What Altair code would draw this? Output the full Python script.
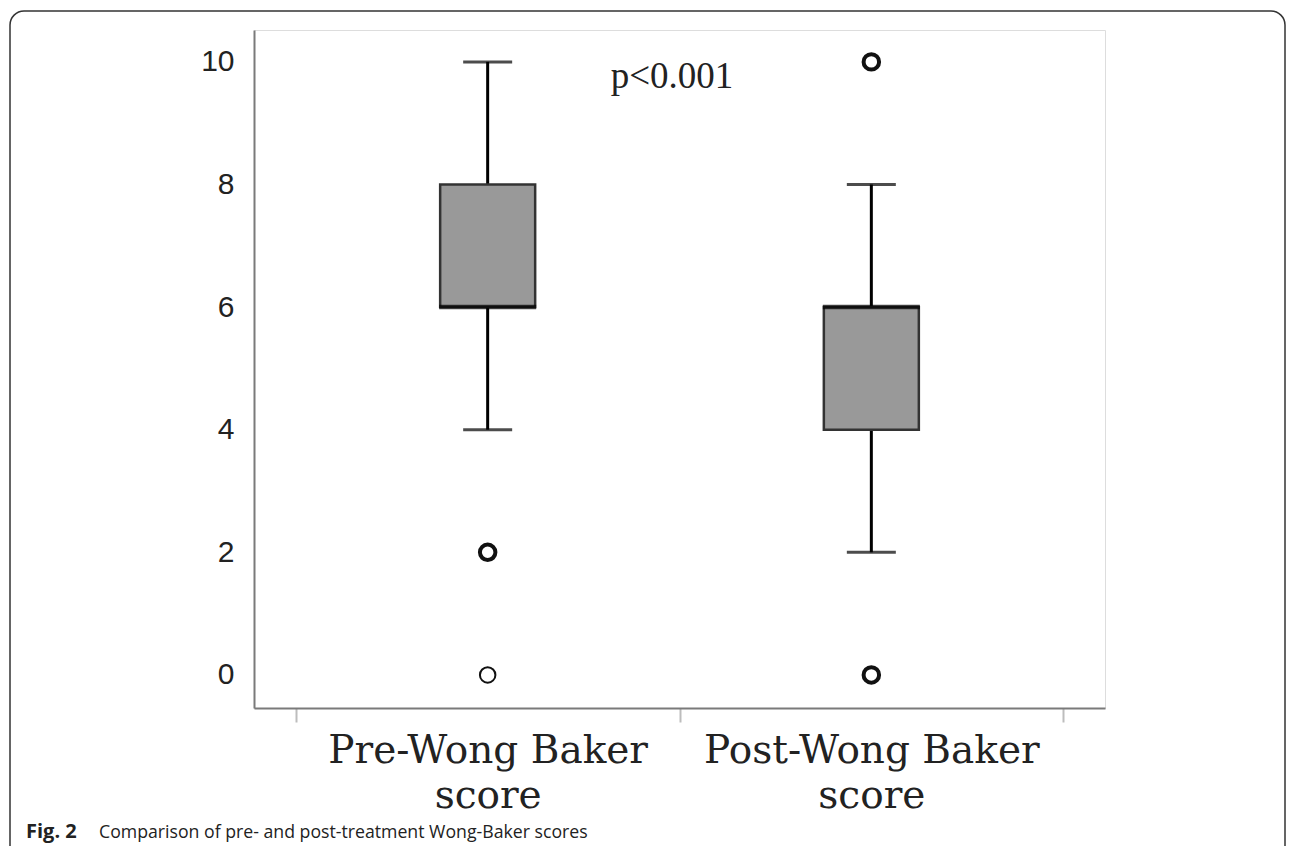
import altair as alt
import pandas as pd

# ---- data ----
categories = ["Pre-Wong Baker score", "Post-Wong Baker score"]
whisker_low = [4, 2]
q1 = [6, 4]
median = [6, 6]
q3 = [8, 6]
whisker_high = [10, 8]

outlier_cat = ["Pre-Wong Baker score", "Pre-Wong Baker score",
               "Post-Wong Baker score", "Post-Wong Baker score"]
outlier_val = [2, 0, 10, 0]
outlier_n = [3, 1, 3, 3]

y_ticks = [0, 2, 4, 6, 8, 10]
p_label = "p<0.001"
fig_label = "Fig. 2"
caption = "Comparison of pre- and post-treatment Wong-Baker scores"

box_df = pd.DataFrame({
    "cat": categories, "lo": whisker_low, "q1": q1,
    "med": median, "q3": q3, "hi": whisker_high,
})
out_df = pd.DataFrame({"cat": outlier_cat, "val": outlier_val, "n": outlier_n})

W, H = 851, 678

x_enc = alt.X(
    "cat:N", sort=categories, title=None,
    scale=alt.Scale(paddingInner=0, paddingOuter=0.109),
    axis=alt.Axis(
        labelAngle=0, tickBand="extent", ticks=True, tickSize=14,
        tickColor="#bdbdbd", tickWidth=2, domainColor="#7a7a7a", domainWidth=2,
        labelFont="DejaVu Serif", labelFontSize=39, labelColor="#222222",
        labelLineHeight=45, labelPadding=9, labelBaseline="top", labelLimit=0,
        labelExpr="datum.label ? [replace(datum.label, ' score', ''), 'score'] : ''",
    ),
)
y_scale = alt.Scale(domain=[-0.54, 10.52], nice=False, zero=False)
y_axis = alt.Axis(
    values=y_ticks, grid=False, ticks=False, title=None,
    domainColor="#7a7a7a", domainWidth=2,
    labelFont="Liberation Sans", labelFontSize=30, labelColor="#222222",
    labelPadding=20,
)

base = alt.Chart(box_df)

whisk_low = base.mark_rule(color="black", strokeWidth=3).encode(
    x=x_enc, y=alt.Y("lo:Q", scale=y_scale, axis=y_axis), y2="q1:Q")
whisk_high = base.mark_rule(color="black", strokeWidth=3).encode(
    x=x_enc, y=alt.Y("q3:Q", scale=y_scale, axis=y_axis), y2="hi:Q")
boxes = base.mark_bar(size=95, fill="#999999", stroke="#333333", strokeWidth=2.5).encode(
    x=x_enc, y=alt.Y("q1:Q", scale=y_scale, axis=y_axis), y2="q3:Q")
cap_low = base.mark_tick(size=49, thickness=3, color="black").encode(
    x=x_enc, y=alt.Y("lo:Q", scale=y_scale, axis=y_axis))
cap_high = base.mark_tick(size=49, thickness=3, color="black").encode(
    x=x_enc, y=alt.Y("hi:Q", scale=y_scale, axis=y_axis))
med = base.mark_tick(size=97, thickness=4.5, color="black").encode(
    x=x_enc, y=alt.Y("med:Q", scale=y_scale, axis=y_axis))

outliers = alt.Chart(out_df).mark_point(
    shape="circle", filled=False, size=240, color="#111111", opacity=1
).encode(
    x=x_enc, y=alt.Y("val:Q", scale=y_scale, axis=y_axis),
    strokeWidth=alt.StrokeWidth("n:Q", scale=alt.Scale(domain=[1, 3], range=[2, 4]), legend=None),
)

one = alt.Data(values=[{"k": 1}])
p_text = alt.Chart(one).mark_text(
    text=p_label, font="Liberation Serif", fontSize=37, color="#222222",
    align="center", baseline="alphabetic",
).encode(x=alt.value(418), y=alt.value(58))

fig_text = alt.Chart(one).mark_text(
    text=fig_label, font="Open Sans", fontSize=20, fontWeight="bold", color="#222222",
    align="left", baseline="alphabetic",
).encode(x=alt.value(-228), y=alt.value(808))
cap_text = alt.Chart(one).mark_text(
    text=caption, font="Open Sans", fontSize=17.7, color="#222222",
    align="left", baseline="alphabetic",
).encode(x=alt.value(-155), y=alt.value(808))

frame = alt.Chart(one).mark_rect(
    fill="transparent", stroke="#333333", strokeWidth=1.5, cornerRadius=14
).encode(x=alt.value(-244), x2=alt.value(1031), y=alt.value(-19), y2=alt.value(840))

chart = alt.layer(
    frame, whisk_low, whisk_high, boxes, cap_low, cap_high, med, outliers,
    p_text, fig_text, cap_text,
).properties(
    width=W, height=H,
    autosize=alt.AutoSizeParams(type="none"),
    padding={"left": 246, "top": 22, "right": 182, "bottom": 138},
).configure_view(stroke=None).configure(background="white")

chart.save("out.html", embed_options={"renderer": "svg", "actions": False})
